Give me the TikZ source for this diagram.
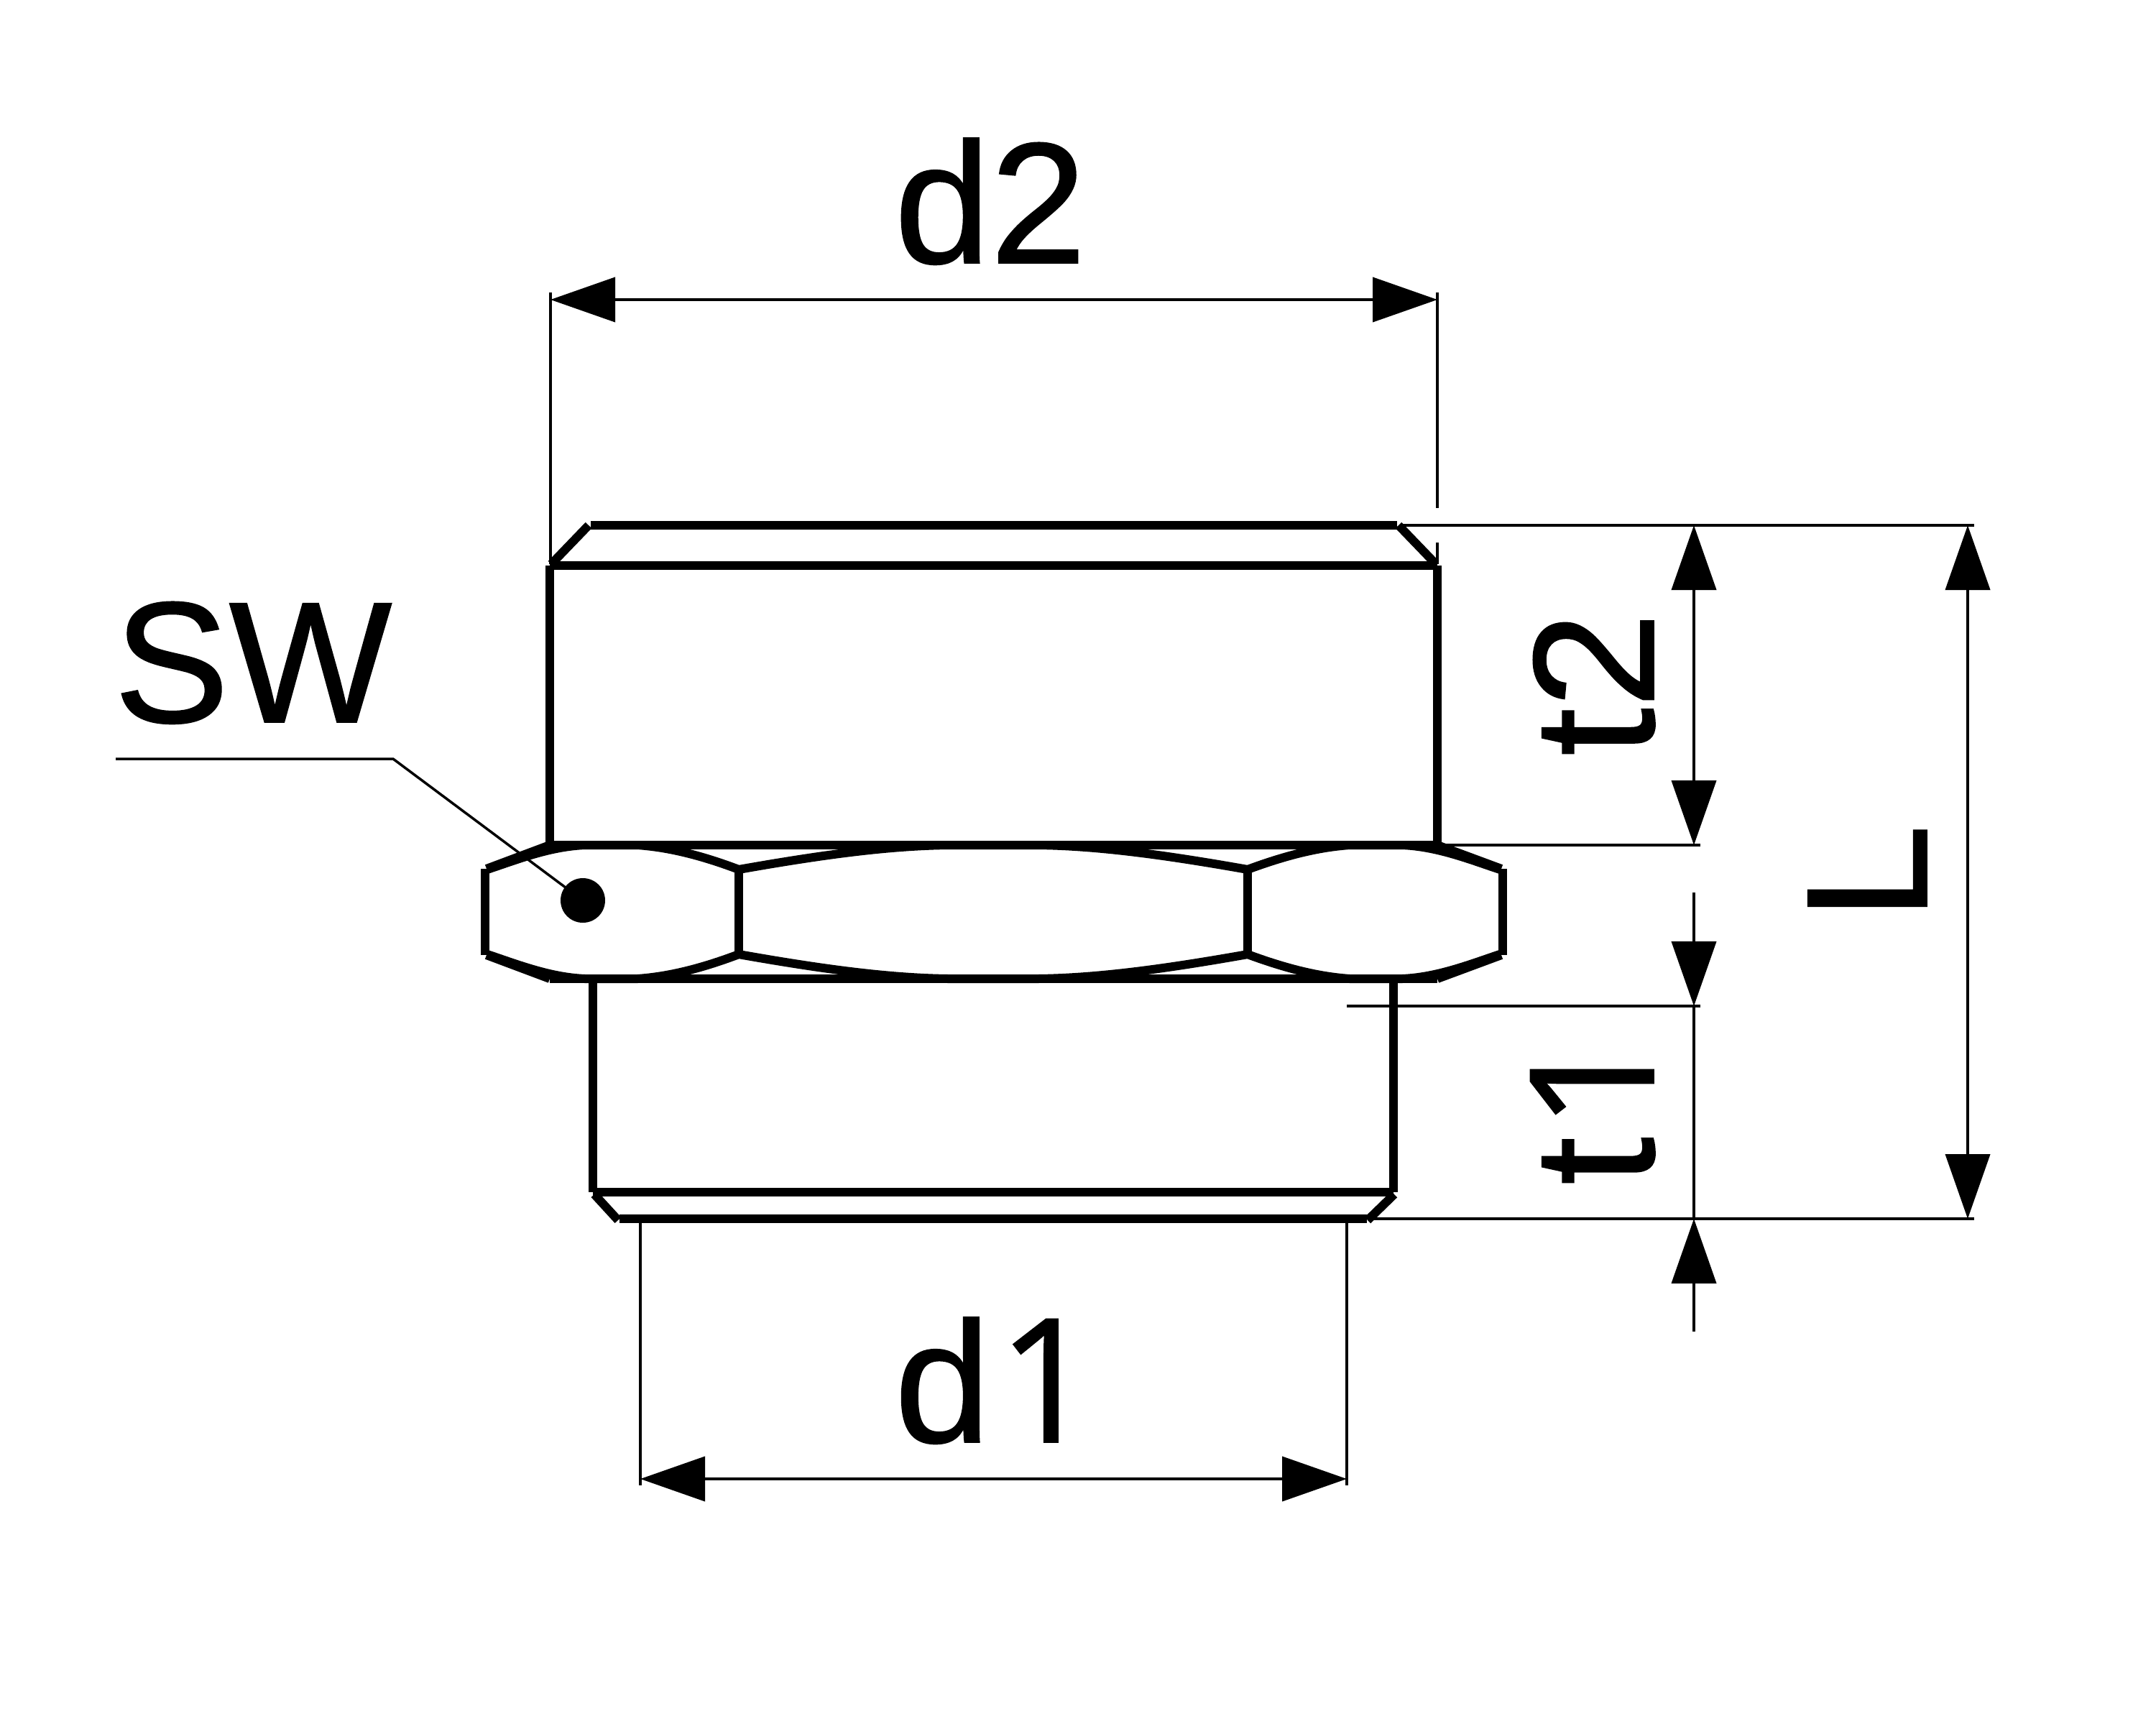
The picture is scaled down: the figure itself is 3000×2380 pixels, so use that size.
\documentclass[tikz,border=0pt]{standalone}
\usepackage{fontspec}
\setmainfont[FakeBold=0.8]{Liberation Sans}
\newfontfamily\onefont[FakeBold=0.8]{Open Sans}
\usetikzlibrary{arrows.meta}
\tikzset{
  partline/.style={line width=12pt,line cap=butt,line join=miter,black},
  thinline/.style={line width=4pt,line cap=butt,black},
  dimtip/.style={-{Triangle[length=90pt,width=62pt]}},
  dimboth/.style={{Triangle[length=90pt,width=62pt]}-{Triangle[length=90pt,width=62pt]}},
  lbl/.style={inner sep=0pt,outer sep=0pt,anchor=base,font=\fontsize{240}{240}\selectfont},
  lblrot/.style={lbl,rotate=90}
}
\begin{document}
\begin{tikzpicture}[x=1pt,y=-1pt]
\useasboundingbox (0,0) rectangle (3000,2380);

% --- extension-line coordinates ---
\coordinate (d2L) at (766,417);   \coordinate (d2R) at (2000,417);
\coordinate (d1L) at (891,2058);  \coordinate (d1R) at (1874,2058);
\coordinate (t2T) at (2357,731);  \coordinate (t2B) at (2357,1176);
\coordinate (t1T) at (2357,1400); \coordinate (t1B) at (2357,1696);
\coordinate (t1Ts) at (2357,1242);\coordinate (t1Bs) at (2357,1853);
\coordinate (LT) at (2738,731);   \coordinate (LB) at (2738,1696);

% --- part: upper thread ---
\draw[partline] (822,731) -- (1944,731);
\draw[partline] (765,787) -- (2000,787);
\draw[partline] (767,785) -- (819,731);
\draw[partline] (1946,731) -- (1998,785);
\draw[partline] (765,787) -- (765,1176);
\draw[partline] (2000,787) -- (2000,1176);

% --- part: hexagon ---
\draw[partline] (765,1176) -- (2000,1176);
\draw[partline] (765,1362) -- (2000,1362);
\draw[partline] (675,1209) -- (675,1329);
\draw[partline] (2091,1209) -- (2091,1329);
\draw[partline] (1028,1208) -- (1028,1330);
\draw[partline] (1736,1208) -- (1736,1330);
% straight chamfers
\draw[partline] (677,1209) -- (765,1176);
\draw[partline] (2089,1209) -- (2000,1176);
\draw[partline] (677,1329) -- (765,1362);
\draw[partline] (2089,1329) -- (2000,1362);
% face arcs, top
\draw[partline] (678,1210) .. controls (720,1196) and (765,1178) .. (814,1176)
  -- (887,1176) .. controls (930,1179) and (975,1190) .. (1028,1210);
\draw[partline] (1028,1210) .. controls (1130,1192) and (1230,1177) .. (1320,1176)
  -- (1444,1176) .. controls (1534,1177) and (1634,1192) .. (1736,1210);
\draw[partline] (1736,1210) .. controls (1790,1190) and (1835,1179) .. (1878,1176)
  -- (1951,1176) .. controls (2000,1178) and (2045,1196) .. (2087,1210);
% face arcs, bottom
\draw[partline] (678,1328) .. controls (720,1342) and (765,1360) .. (814,1362)
  -- (887,1362) .. controls (930,1359) and (975,1348) .. (1028,1328);
\draw[partline] (1028,1328) .. controls (1130,1346) and (1230,1361) .. (1320,1362)
  -- (1444,1362) .. controls (1534,1361) and (1634,1346) .. (1736,1328);
\draw[partline] (1736,1328) .. controls (1790,1348) and (1835,1359) .. (1878,1362)
  -- (1951,1362) .. controls (2000,1360) and (2045,1342) .. (2087,1328);

% --- part: lower thread ---
\draw[partline] (825,1362) -- (825,1659);
\draw[partline] (1939,1362) -- (1939,1659);
\draw[partline] (825,1659) -- (1939,1659);
\draw[partline] (862,1696) -- (1902,1696);
\draw[partline] (827,1662) -- (860,1698);
\draw[partline] (1940,1662) -- (1903,1698);

% --- extension lines ---
\draw[thinline] (766,407) -- (766,785);
\draw[thinline] (2000,407) -- (2000,707);
\draw[thinline] (2000,755) -- (2000,785);
\draw[thinline] (891,1702) -- (891,2067);
\draw[thinline] (1874,1702) -- (1874,2067);
\draw[thinline] (1950,731) -- (2747,731);
\draw[thinline] (2006,1176) -- (2366,1176);
\draw[thinline] (1874,1400) -- (2366,1400);
\draw[thinline] (1905,1696) -- (2747,1696);

% --- dimension lines ---
\draw[thinline,dimboth] (d2L) -- (d2R);
\draw[thinline,dimboth] (d1L) -- (d1R);
\draw[thinline,dimboth] (t2T) -- (t2B);
\draw[thinline,dimboth] (LT) -- (LB);
\draw[thinline,dimtip] (t1Ts) -- (t1T);
\draw[thinline] (t1T) -- (t1B);
\draw[thinline,dimtip] (t1Bs) -- (t1B);

% --- SW leader ---
\coordinate (swA) at (161,1056);
\coordinate (swB) at (547,1056);
\node[circle,fill=black,draw=none,minimum size=62pt,inner sep=0pt] (swdot) at (811,1253) {};
\draw[line width=3.5pt,black] (swA) -- (swB) -- (swdot.center);

% --- labels ---
\node[lbl] (labd2) at (1378,366) {d2};
\node[lbl] (labd1) at (1385,2007) {d\kern10pt{\onefont 1}};
\node[lbl] (labsw) at (352,1005) {SW};
\node[lblrot] (labt2) at (2301,952) {t2};
\node[lblrot] (labt1) at (2301,1542) {t\kern10pt{\onefont 1}};
\node[lblrot] (labL) at (2681,1214) {L};
\end{tikzpicture}
\end{document}
